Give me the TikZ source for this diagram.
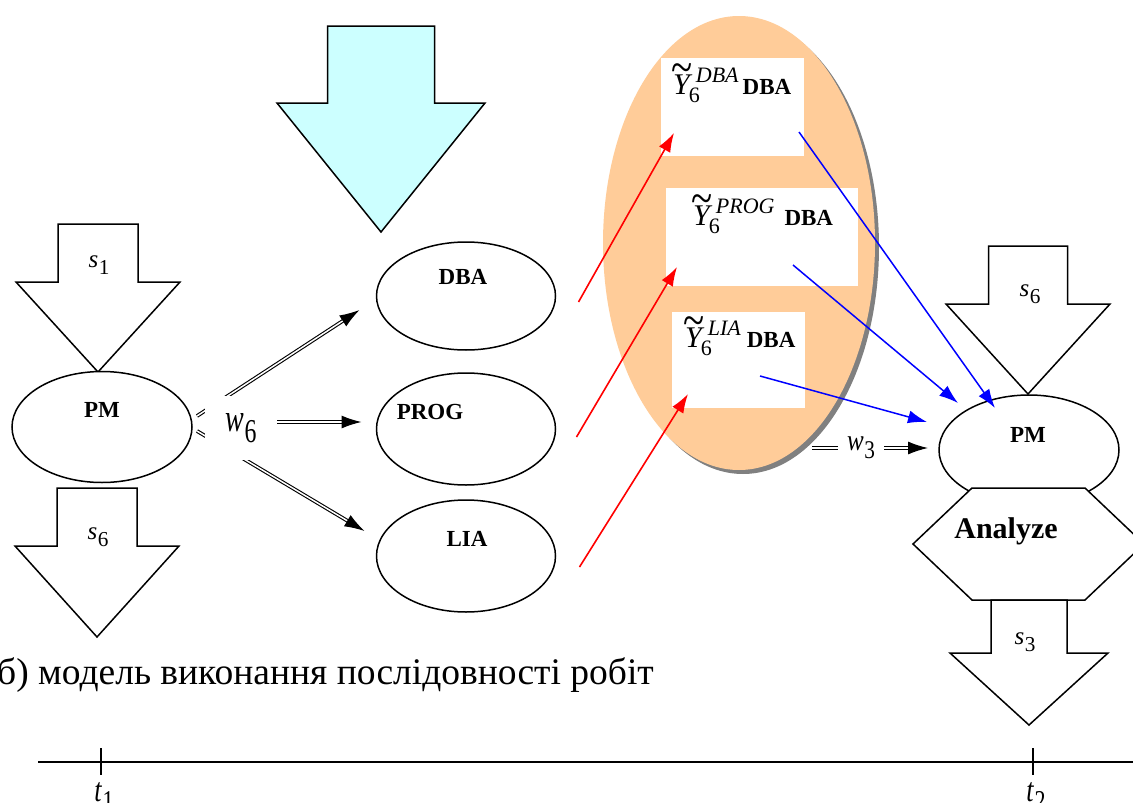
\documentclass[tikz,border=0pt]{standalone}
\usepackage{fontspec}
\setmainfont{Liberation Serif}
\usepackage{graphicx}
\usetikzlibrary{arrows.meta,calc,shapes.geometric}

\definecolor{cyanfill}{HTML}{CCFFFF}
\definecolor{poolfill}{HTML}{FFCC99}
\definecolor{poolshadow}{HTML}{808080}

% downward block arrow: style, centre x, top, shoulder, tip, half shaft, half head
\newcommand\blockdown[7]{%
  \draw[#1] ({#2-#6},#3) -- ({#2+#6},#3) -- ({#2+#6},#4) -- ({#2+#7},#4)
    -- (#2,#5) -- ({#2-#7},#4) -- ({#2-#6},#4) -- cycle;}

% italic variable with an upright subscript
\newcommand\vsub[2]{\textit{#1}\kern0.5pt\raisebox{-0.28em}{\scalebox{0.85}{#2}}}
\newcommand\tallvar[3]{\scalebox{1}[#3]{\vsub{#1}{#2}}}

% Y with a wide tilde
\newcommand\tildeY{\ooalign{\itshape Y\cr\hidewidth\kern2pt\raisebox{0.34em}{\scalebox{1.3}[1.6]{\char`\~}}\hidewidth\cr}}
% superscript over subscript 6
\newcommand\supsub[1]{{\fontsize{22}{24}\selectfont
  \setbox0\hbox{\raisebox{12pt}{\itshape #1}}%
  \setbox2\hbox{\raisebox{-8pt}{6}}\rlap{\kern-1pt\box2}\kern6pt\box0}}
\newcommand\ytext[2]{{\fontsize{30}{32}\selectfont\tildeY}\supsub{#1}\kern#2{\fontsize{23}{26}\selectfont\bfseries DBA}}

\begin{document}
\begin{tikzpicture}[x=1pt,y=-1pt,line join=miter,
  blk/.style={draw,line width=1.5pt,fill=white},
  cyanblk/.style={draw,line width=1.5pt,fill=cyanfill},
  ell/.style={ellipse,draw,line width=1.5pt,fill=white,inner sep=0pt,outer sep=0pt},
  elltext/.style={font=\fontsize{23}{25}\selectfont\bfseries},
  svar/.style={font=\fontsize{25}{28}\selectfont},
  ybox/.style={rectangle,fill=white,inner sep=0pt,outer sep=0pt},
  dbl/.style={draw,double,double distance=1.5pt,line width=1.1pt,-{Latex[length=20pt,width=13pt]}},
  redarr/.style={red,line width=1.6pt,-{Latex[length=19pt,width=13pt]}},
  bluearr/.style={blue,line width=1.5pt,-{Latex[length=19pt,width=13pt]}}]
\useasboundingbox (0,0) rectangle (1133,803);

% --- left: PM with its input and output ---
\blockdown{blk}{98}{224}{282}{372}{40}{82}
\node[svar] (s1) at (99,265) {\vsub{s}{1}};
\node[ell,minimum width=180pt,minimum height=111pt,
      label={[elltext,yshift=17pt]center:PM}] (pmL) at (102,427) {};
\blockdown{blk}{97}{488}{546}{637}{40}{82}
\node[svar] (s6a) at (98,537) {\vsub{s}{6}};

% --- top input arrow ---
\blockdown{cyanblk}{381}{26}{103}{232}{53.5}{104}

% --- roles ---
\node[ell,minimum width=179pt,minimum height=108pt,
      label={[elltext,xshift=-3pt,yshift=19pt]center:DBA}] (dba) at (466,296) {};
\node[ell,minimum width=179pt,minimum height=112pt,
      label={[elltext,xshift=-36pt,yshift=17pt]center:PROG}] (prog) at (466,429) {};
\node[ell,minimum width=179pt,minimum height=112pt,
      label={[elltext,xshift=1pt,yshift=17pt]center:LIA}] (lia) at (466,556) {};

% --- w6 fan-out ---
\draw[dbl] ($(pmL.east)+(5,-11)$) -- ($(dba.west)+(-17,14)$);
\draw[dbl] ($(pmL.east)+(20,-5)$) -- ($(prog.west)+(-15,-7)$);
\draw[dbl] ($(pmL.east)+(5,4)$) -- ($(lia.west)+(-12,-25)$);
\node[fill=white,inner sep=0pt,minimum width=72pt,minimum height=64pt,
      font=\fontsize{28}{30}\selectfont] (w6) at (241,428) {\raisebox{7pt}{\tallvar{w}{6}{1.4}}};

% --- pool of results ---
\node[ellipse,fill=poolshadow,inner sep=0pt,minimum width=272pt,minimum height=454pt] (poolsh) at (743,247) {};
\node[ellipse,fill=poolfill,inner sep=0pt,minimum width=272pt,minimum height=454pt] (pool) at (739,243) {};
\node[ybox,minimum width=143pt,minimum height=98pt] (yb1) at (732.5,107) {};
\node[ybox,minimum width=192pt,minimum height=98pt] (yb2) at (762,237) {};
\node[ybox,minimum width=133pt,minimum height=96pt] (yb3) at (738.5,360) {};
\node[anchor=base west,inner sep=0pt] (yt1) at ($(yb1.north west)+(12,36)$) {\ytext{DBA}{4pt}};
\node[anchor=base west,inner sep=0pt] (yt2) at ($(yb2.north west)+(27,37)$) {\ytext{PROG}{10pt}};
\node[anchor=base west,inner sep=0pt] (yt3) at ($(yb3.north west)+(13,35)$) {\ytext{LIA}{6pt}};

% --- role results into the pool ---
\coordinate (r1) at ($(dba.east)+(23,6)$);
\coordinate (r2) at ($(prog.east)+(21,8)$);
\coordinate (r3) at ($(lia.east)+(24,11)$);
\draw[redarr] (r1) -- ($(yb1.south west)+(13,-23)$);
\draw[redarr] (r2) -- ($(yb2.south west)+(11,-19)$);
\draw[redarr] (r3) -- ($(yb3.south west)+(16,-14)$);

% --- right: PM with Analyze ---
\blockdown{blk}{1028}{246}{304}{394}{39.5}{82}
\node[svar] (s6b) at (1030,294) {\vsub{s}{6}};
\node[ell,minimum width=180pt,minimum height=110pt,
      label={[elltext,xshift=-1pt,yshift=15pt]center:PM}] (pmR) at (1029,450) {};
\draw[blk] (972,488) -- (1085,488) -- (1144,544) -- (1085,600) -- (972,600) -- (913,544) -- cycle;
\node[anchor=base,inner sep=0pt,font=\fontsize{30}{32}\selectfont\bfseries] (an) at (1006,538) {Analyze};
\blockdown{blk}{1029}{600}{653}{725}{38}{79}
\node[svar] (s3) at (1025,642) {\vsub{s}{3}};

% --- pool into PM ---
\draw[bluearr] ($(yb1.south east)+(-5,-24)$) -- ($(pmR.center)+(-34,-42)$);
\draw[bluearr] ($(yb2.south east)+(-65,-21)$) -- ($(pmR.center)+(-71,-47)$);
\draw[bluearr] ($(yb3.south east)+(-45,-32)$) -- ($(pmR.center)+(-102,-28)$);
\coordinate (w3s) at (812,448);
\draw[dbl] (w3s) -- ($(pmR.west)+(-11,-2)$);
\node[fill=white,inner sep=0pt,minimum width=46pt,minimum height=30pt,
      font=\fontsize{25}{28}\selectfont] (w3) at (861,448) {\raisebox{2pt}{\tallvar{w}{3}{1.2}}};

% --- caption ---
\node[anchor=base west,inner sep=0pt,font=\fontsize{37.5}{40}\selectfont] (cap) at (-3,684)
  {б) модель виконання послідовності робіт};

% --- time axis ---
\coordinate (ax0) at (38,762);
\coordinate (ax1) at (1133,762);
\draw[line width=2pt] (ax0) -- (ax1);
\draw[line width=1.2pt] (101,748) -- (101,775);
\draw[line width=1.2pt] (1033,748) -- (1033,775);
\node[anchor=base,inner sep=0pt,font=\fontsize{26}{28}\selectfont] (t1) at (104,801) {\tallvar{t}{1}{1.3}};
\node[anchor=base,inner sep=0pt,font=\fontsize{26}{28}\selectfont] (t2) at (1036,801) {\tallvar{t}{2}{1.3}};
\end{tikzpicture}
\end{document}
